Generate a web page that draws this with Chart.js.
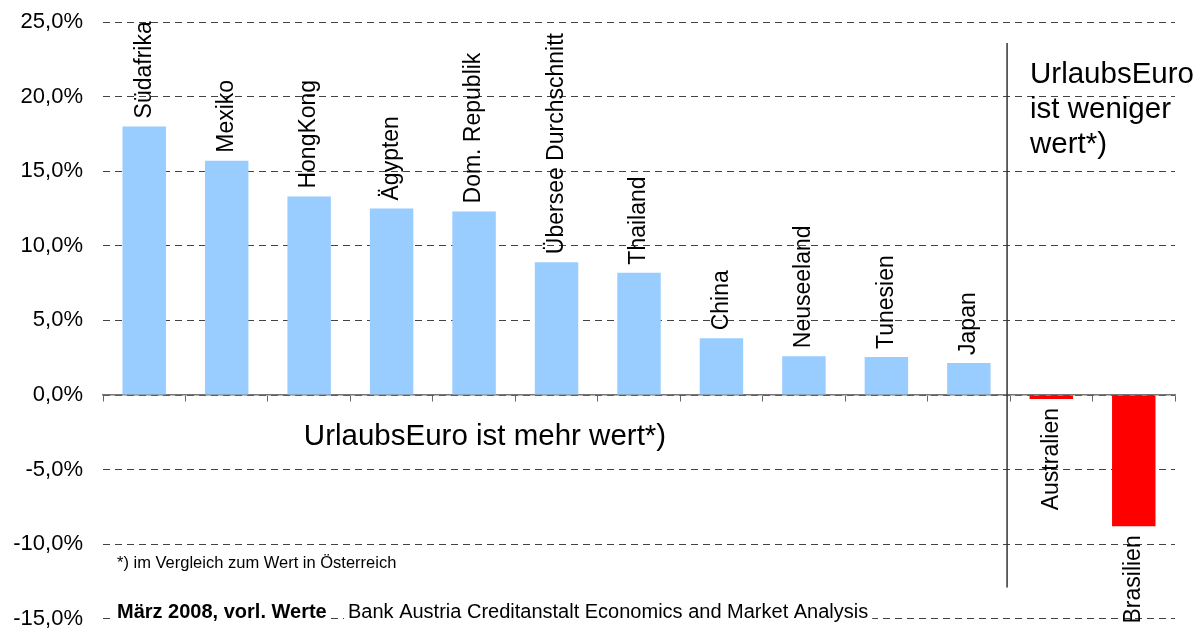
<!DOCTYPE html>
<html lang="de">
<head>
<meta charset="UTF-8">
<title>UrlaubsEuro Vergleich</title>
<script src="https://cdn.jsdelivr.net/npm/chart.js"></script>
<style>
  html, body { margin: 0; padding: 0; background: #fff; }
</style>
</head>
<body>
<canvas id="myChart" width="1197" height="632"></canvas>
<script>
// Werte (in %)
const laender = ['Südafrika', 'Mexiko', 'HongKong', 'Ägypten', 'Dom. Republik', 'Übersee Durchschnitt',
  'Thailand', 'China', 'Neuseeland', 'Tunesien', 'Japan', 'Australien', 'Brasilien'];
const werte = [18.0, 15.7, 13.3, 12.5, 12.3, 8.9, 8.2, 3.8, 2.6, 2.55, 2.15, -0.27, -8.8];
const yTicks = [25, 20, 15, 10, 5, 0, -5, -10, -15];

const fontFamily = "'Liberation Sans', Arial, sans-serif";
Chart.defaults.font.family = fontFamily;
Chart.defaults.color = '#000';

function fmtProzent(v) {
  return v.toFixed(1).replace('.', ',') + '%';
}

// senkrechte Beschriftung an den Balken
const balkenLabels = {
  id: 'balkenLabels',
  afterDatasetsDraw(chart) {
    const ctx = chart.ctx;
    const meta = chart.getDatasetMeta(0);
    ctx.save();
    ctx.font = '23px ' + fontFamily;
    ctx.fillStyle = '#000';
    ctx.textBaseline = 'middle';
    meta.data.forEach((bar, i) => {
      const v = werte[i];
      ctx.save();
      if (v >= 0) {
        ctx.translate(bar.x, bar.y - 8);
        ctx.rotate(-Math.PI / 2);
        ctx.textAlign = 'left';
      } else {
        ctx.translate(bar.x, bar.y + 9);
        ctx.rotate(-Math.PI / 2);
        ctx.textAlign = 'right';
      }
      ctx.fillText(laender[i], 0, 0);
      ctx.restore();
    });
    ctx.restore();
  }
};

// Trennlinie und Texte
const extras = {
  id: 'extras',
  afterDraw(chart) {
    const ctx = chart.ctx;
    const x = chart.scales.x;
    const y = chart.scales.y;
    ctx.save();

    // Trennlinie zwischen Japan und Australien
    const sx = (x.getPixelForValue(10) + x.getPixelForValue(11)) / 2 - 3;
    ctx.strokeStyle = '#333';
    ctx.lineWidth = 1.5;
    ctx.beginPath();
    ctx.moveTo(sx, y.getPixelForValue(23.6));
    ctx.lineTo(sx, y.getPixelForValue(-12.9));
    ctx.stroke();

    ctx.fillStyle = '#000';
    ctx.textBaseline = 'alphabetic';

    ctx.font = '29.5px ' + fontFamily;
    ctx.textAlign = 'center';
    ctx.fillText('UrlaubsEuro ist mehr wert*)', 485, 445);

    ctx.textAlign = 'left';
    ctx.fillText('UrlaubsEuro', 1030, 83);
    ctx.fillText('ist weniger', 1030, 118);
    ctx.fillText('wert*)', 1030, 153);

    ctx.font = '16.5px ' + fontFamily;
    ctx.fillText('*) im Vergleich zum Wert in Österreich', 117, 568);

    // Quellenzeile mit weissem Hintergrund
    ctx.font = 'bold 20px ' + fontFamily;
    const t1 = 'März 2008, vorl. Werte';
    const w1 = ctx.measureText(t1).width;
    ctx.fillStyle = '#fff';
    ctx.fillRect(113, 600, w1 + 8, 24);
    ctx.fillStyle = '#000';
    ctx.fillText(t1, 117, 618);

    ctx.font = '20px ' + fontFamily;
    const t2 = 'Bank Austria Creditanstalt Economics and Market Analysis';
    const w2 = ctx.measureText(t2).width;
    ctx.fillStyle = '#fff';
    ctx.fillRect(344, 600, w2 + 8, 24);
    ctx.fillStyle = '#000';
    ctx.fillText(t2, 348, 618);

    ctx.restore();
  }
};

const ctx = document.getElementById('myChart').getContext('2d');
new Chart(ctx, {
  type: 'bar',
  data: {
    labels: laender,
    datasets: [{
      data: werte,
      backgroundColor: werte.map(v => v >= 0 ? '#99CCFF' : '#FF0000'),
      borderWidth: 0,
      barPercentage: 0.527,
      categoryPercentage: 1.0
    }]
  },
  options: {
    responsive: false,
    animation: false,
    layout: { padding: { top: 22, right: 22, bottom: 13, left: 0 } },
    plugins: {
      legend: { display: false },
      tooltip: { enabled: false }
    },
    scales: {
      x: {
        position: { y: 0 },
        afterFit: scale => { scale.height = 0; },
        ticks: { display: false },
        grid: {
          drawOnChartArea: false,
          drawTicks: true,
          tickLength: 6,
          color: '#666',
          offset: true
        },
        border: { display: true, color: '#777', width: 1.5 }
      },
      y: {
        min: -15,
        max: 25,
        afterBuildTicks: scale => { scale.ticks = yTicks.map(v => ({ value: v })); },
        afterFit: scale => { scale.width = 103; },
        ticks: {
          padding: 0,
          font: { size: 22 },
          color: '#000',
          callback: v => fmtProzent(v)
        },
        grid: {
          color: '#444',
          lineWidth: 1,
          drawTicks: true,
          tickLength: 20,
          tickColor: 'rgba(0,0,0,0)'
        },
        border: { display: false, dash: [7, 5] }
      }
    }
  },
  plugins: [balkenLabels, extras]
});
</script>
</body>
</html>
